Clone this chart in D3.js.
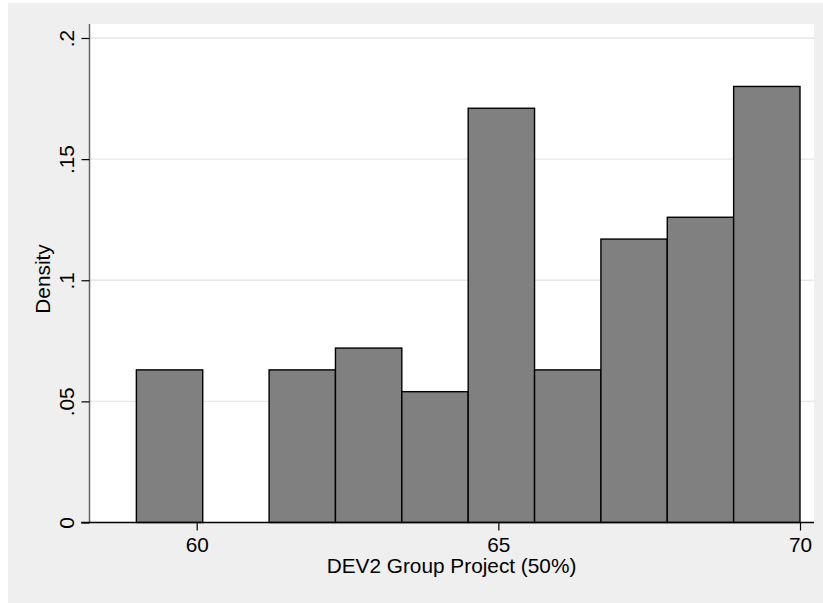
<!DOCTYPE html>
<html>
<head>
<meta charset="utf-8">
<script src="https://cdn.jsdelivr.net/npm/d3@7"></script>
<style>
  html, body { margin: 0; padding: 0; background: #ffffff; }
  svg { display: block; }
  text { font-family: "Liberation Sans", Arial, Helvetica, sans-serif; fill: #000; }
</style>
</head>
<body>
<svg id="chart" width="823" height="603"></svg>
<script>
// Histogram bins (start value of each bin) and bin width
const binStarts = [59, 60.1, 61.2, 62.3, 63.4, 64.5, 65.6, 66.7, 67.8, 68.9];
const binWidth = 1.1;
// Density of each bin
const densities = [0.063, 0, 0.063, 0.072, 0.054, 0.171, 0.063, 0.117, 0.126, 0.180];
// Axis ticks
const xTicks = [60, 65, 70];
const yTicks = [0, 0.05, 0.1, 0.15, 0.2];
const yTickLabels = ["0", ".05", ".1", ".15", ".2"];
const xTitle = "DEV2 Group Project (50%)";
const yTitle = "Density";

const fontSize = 20.8;
const svg = d3.select("#chart");

// Outer graph region
svg.append("rect")
  .attr("x", 8).attr("y", 3).attr("width", 815).attr("height", 600)
  .attr("fill", "#efefef");

// Plot region
const plot = { left: 90, right: 814, top: 24, bottom: 522.5 };
svg.append("rect")
  .attr("x", plot.left).attr("y", plot.top)
  .attr("width", plot.right - plot.left).attr("height", plot.bottom - plot.top)
  .attr("fill", "#ffffff");

const x = d3.scaleLinear().domain([60, 70]).range([196.7, 800]);
const y = d3.scaleLinear().domain([0, 0.2]).range([plot.bottom, 38]);

// Horizontal grid lines
svg.append("g")
  .selectAll("line")
  .data(yTicks.filter(t => t > 0))
  .join("line")
  .attr("x1", plot.left).attr("x2", plot.right)
  .attr("y1", d => y(d)).attr("y2", d => y(d))
  .attr("stroke", "#e6e6e6").attr("stroke-width", 1.3);

// Bars
const bins = binStarts.map((s, i) => ({ x0: s, x1: s + binWidth, d: densities[i] }));
svg.append("g")
  .selectAll("rect")
  .data(bins.filter(b => b.d > 0))
  .join("rect")
  .attr("x", b => x(b.x0))
  .attr("width", b => x(b.x1) - x(b.x0))
  .attr("y", b => y(b.d))
  .attr("height", b => y(0) - y(b.d))
  .attr("fill", "#808080")
  .attr("stroke", "#000")
  .attr("stroke-width", 1.4);

// Y axis
const yAxis = d3.axisLeft(y)
  .tickValues(yTicks)
  .tickFormat((d, i) => yTickLabels[i])
  .tickSize(8)
  .tickPadding(0);
const gy = svg.append("g").attr("transform", `translate(${plot.left - 0.5},0)`).call(yAxis);
gy.select(".domain").attr("stroke", "#666").attr("stroke-width", 1.5)
  .attr("d", `M0,${plot.top}V${plot.bottom}`);
gy.selectAll(".tick line").attr("stroke", "#000").attr("stroke-width", 1.2);
gy.selectAll(".tick text")
  .attr("font-size", fontSize)
  .attr("text-anchor", "middle")
  .attr("x", null).attr("dy", null)
  .attr("transform", "translate(-16,0) rotate(-90)")
  .attr("y", 0);

// X axis
const xAxis = d3.axisBottom(x)
  .tickValues(xTicks)
  .tickFormat(d3.format("d"))
  .tickSize(8)
  .tickPadding(5);
const gx = svg.append("g").attr("transform", `translate(0,${plot.bottom})`).call(xAxis);
gx.select(".domain").attr("stroke", "#000").attr("stroke-width", 1.5)
  .attr("d", `M81,0H${plot.right}`);
gx.selectAll(".tick line").attr("stroke", "#000").attr("stroke-width", 1.2);
gx.selectAll(".tick text")
  .attr("font-size", fontSize)
  .attr("dy", null)
  .attr("y", 29);

// Axis titles
svg.append("text")
  .attr("x", (plot.left + plot.right) / 2 - 0.5)
  .attr("y", 573)
  .attr("text-anchor", "middle")
  .attr("font-size", fontSize)
  .text(xTitle);

svg.append("text")
  .attr("transform", `translate(49.5,279) rotate(-90)`)
  .attr("text-anchor", "middle")
  .attr("font-size", fontSize)
  .text(yTitle);
</script>
</body>
</html>
